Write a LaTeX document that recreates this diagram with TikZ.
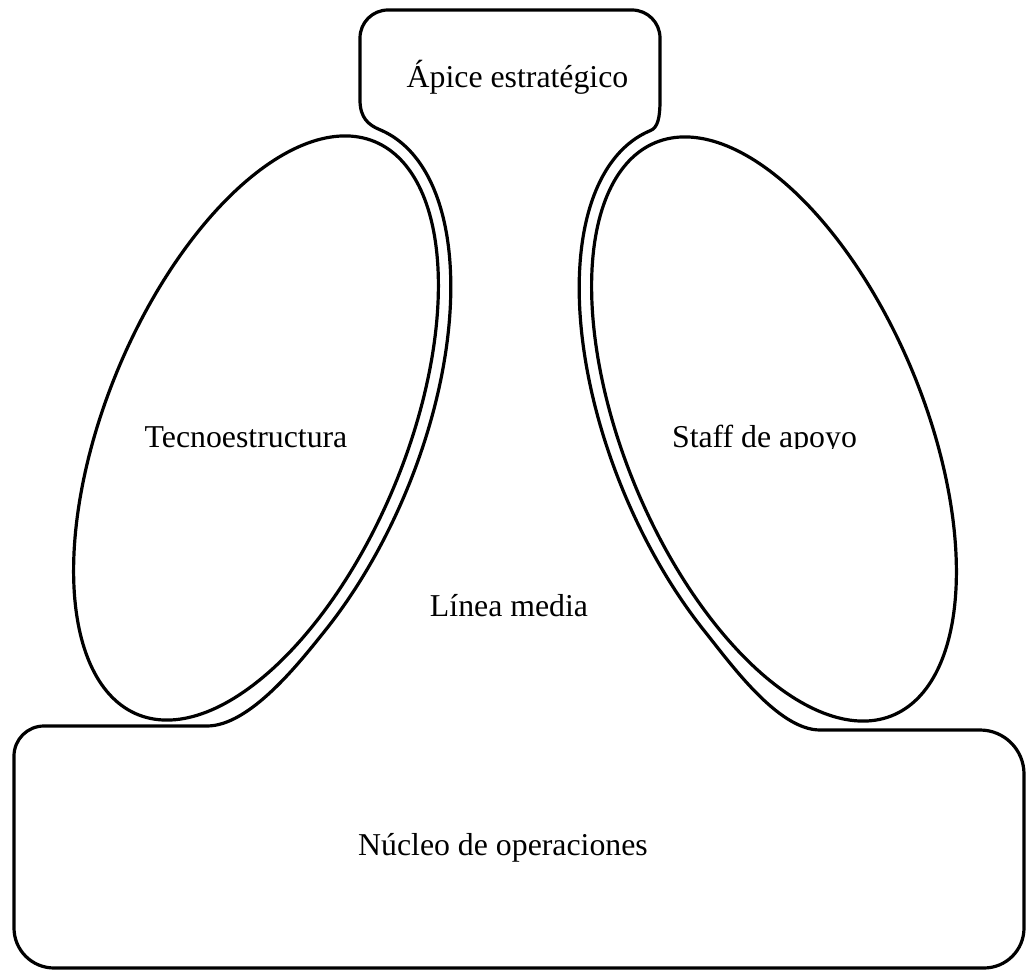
\documentclass[tikz,border=0pt]{standalone}
\usepackage{fontspec}
\setmainfont{Liberation Serif}
\begin{document}
\begin{tikzpicture}[x=0.5pt,y=-0.5pt,
  outline/.style={draw=black, line width=1.6pt, line join=round},
  label/.style={font=\fontsize{15.9pt}{19pt}\selectfont, inner sep=0pt, anchor=base}]
\useasboundingbox (0,0) rectangle (1028,974);
\fill[white] (0,0) rectangle (1028,974);

% strategic apex, middle line and operating core as one contour
\draw[outline]
  (360,100) -- (360,38) .. controls (360,22.5) and (372.5,10) .. (388,10)
  -- (632,10) .. controls (647.5,10) and (660,22.5) .. (660,38)
  -- (660,100) .. controls (660,118) and (657.8,127.5) .. (650.39,130.59)
  -- plot[domain=0:120, samples=120, variable=\s]
       ({774-123.61*cos(\s)-150.59*sin(\s)}, {429-298.41*cos(\s)+62.38*sin(\s)})
  .. controls (730.4,663.4) and (778,730) .. (820,730)
  -- (980,730) .. controls (1004.3,730) and (1024,749.7) .. (1024,774)
  -- (1024,928) .. controls (1024,950.1) and (1006.1,968) .. (984,968)
  -- (54,968) .. controls (31.9,968) and (14,950.1) .. (14,928)
  -- (14,756) .. controls (14,739.4) and (27.4,726) .. (44,726)
  -- (207,726) .. controls (250,726) and (299.6,662.4) .. (324.61,631.23)
  -- plot[domain=-120:0, samples=120, variable=\t]
       ({256+123.61*cos(\t)-150.59*sin(\t)}, {428-298.41*cos(\t)-62.38*sin(\t)})
  .. controls (368.6,125) and (360,118) .. (360,100) -- cycle;

% technostructure and support staff
\draw[outline] plot[domain=0:360, samples=240, variable=\t]
  ({256+118.63*cos(\t)-138.58*sin(\t)}, {428-286.40*cos(\t)-57.40*sin(\t)}) -- cycle;
\draw[outline] plot[domain=0:360, samples=240, variable=\t]
  ({774-118.63*cos(\t)+138.58*sin(\t)}, {429-286.40*cos(\t)-57.40*sin(\t)}) -- cycle;

% labels
\node[label] (apice) at (517.5,88) {Ápice estratégico};
\node[label] (tecno) at (246,447) {Tecnoestructura};
\begin{scope}
  \clip (650,400) rectangle (880,448.5);
  \node[label] (staff) at (764.5,447) {Staff de apoyo};
\end{scope}
\node[label] (linea) at (509,616) {Línea media};
\node[label] (nucleo) at (503,855) {Núcleo de operaciones};
\end{tikzpicture}
\end{document}
